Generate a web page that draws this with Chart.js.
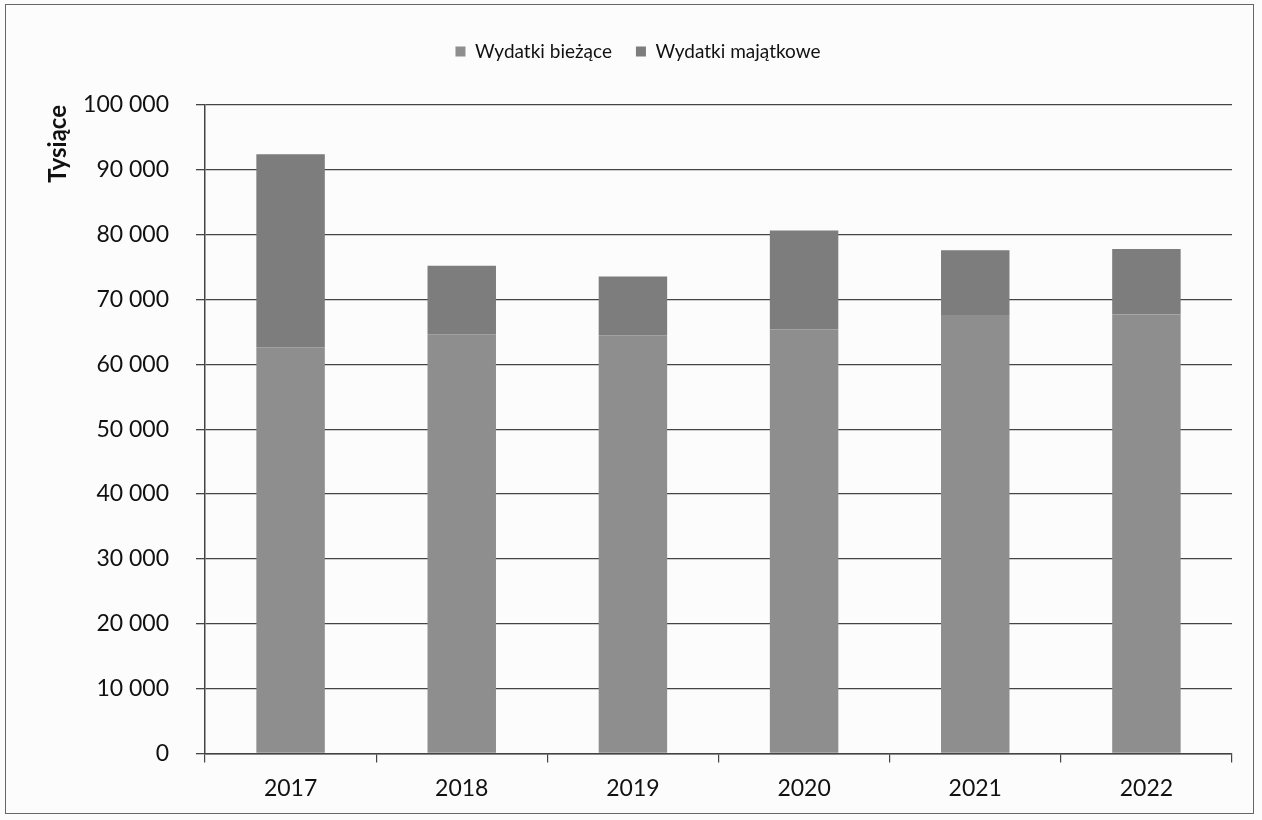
<!DOCTYPE html>
<html>
<head>
<meta charset="utf-8">
<script src="https://cdn.jsdelivr.net/npm/chart.js@4/dist/chart.umd.min.js"></script>
<style>
html,body{margin:0;padding:0;background:#fcfcfc;}
#wrap{position:relative;width:1262px;height:820px;}
#frame{position:absolute;left:5px;top:4px;width:1249px;height:810px;border:1.5px solid #666;box-sizing:border-box;pointer-events:none;}
canvas{position:absolute;left:0;top:0;}
</style>
</head>
<body>
<div id="wrap">
<canvas id="c" width="1262" height="820"></canvas>
<div id="frame"></div>
</div>
<script>
const categories = ["2017","2018","2019","2020","2021","2022"];
const wydatkiBiezace = [62650, 64650, 64500, 65400, 67600, 67700];
const wydatkiMajatkowe = [29750, 10550, 9050, 15250, 10000, 10100];
const seriesNames = ["Wydatki bieżące","Wydatki majątkowe"];
const yAxisTitle = "Tysiące";
const yMax = 100000;
const yStep = 10000;

const fmt = v => String(v).replace(/\B(?=(\d{3})+(?!\d))/g, "\u00a0");

const legendHeight = {
  id: 'legendHeight',
  beforeInit(chart){
    const fit = chart.legend.fit;
    chart.legend.fit = function(){ fit.bind(chart.legend)(); this.height = 87; };
  }
};

new Chart(document.getElementById('c'), {
  type: 'bar',
  data: {
    labels: categories,
    datasets: [
      {label: seriesNames[0], data: wydatkiBiezace, backgroundColor: '#8e8e8e', borderWidth: 0},
      {label: seriesNames[1], data: wydatkiMajatkowe, backgroundColor: '#7d7d7d', borderWidth: 0}
    ]
  },
  options: {
    responsive: false,
    animation: false,
    layout: {padding: {top: 18, left: 44, right: 30, bottom: 6}},
    datasets: {bar: {barPercentage: 0.4, categoryPercentage: 1}},
    plugins: {
      legend: {
        position: 'top',
        labels: {
          font: {family: 'Lato', size: 19},
          color: '#111',
          boxWidth: 10, boxHeight: 10,
          padding: 24
        }
      },
      tooltip: {enabled: false}
    },
    scales: {
      x: {
        stacked: true,
        offset: true,
        grid: {offset: true, drawOnChartArea: false, drawTicks: true, tickLength: 9, color: '#444', lineWidth: 1.2},
        border: {display: true, color: '#444', width: 1.5},
        ticks: {font: {family: 'Lato', size: 23}, color: '#111', padding: 12}
      },
      y: {
        stacked: true,
        min: 0, max: yMax,
        afterFit(scale){ scale.width = 161; },
        ticks: {stepSize: yStep, font: {family: 'Lato', size: 23}, color: '#111', padding: 27, callback: v => fmt(v)},
        grid: {color: '#444', lineWidth: 1.3, tickLength: 9, drawTicks: true},
        border: {display: true, color: '#444', width: 1.5},
        title: {display: true, text: yAxisTitle, align: 'end', font: {family: 'Lato', size: 24, weight: 'bold'}, color: '#111', padding: {top: 0, bottom: 0}}
      }
    }
  },
  plugins: [legendHeight]
});
</script>
</body>
</html>
